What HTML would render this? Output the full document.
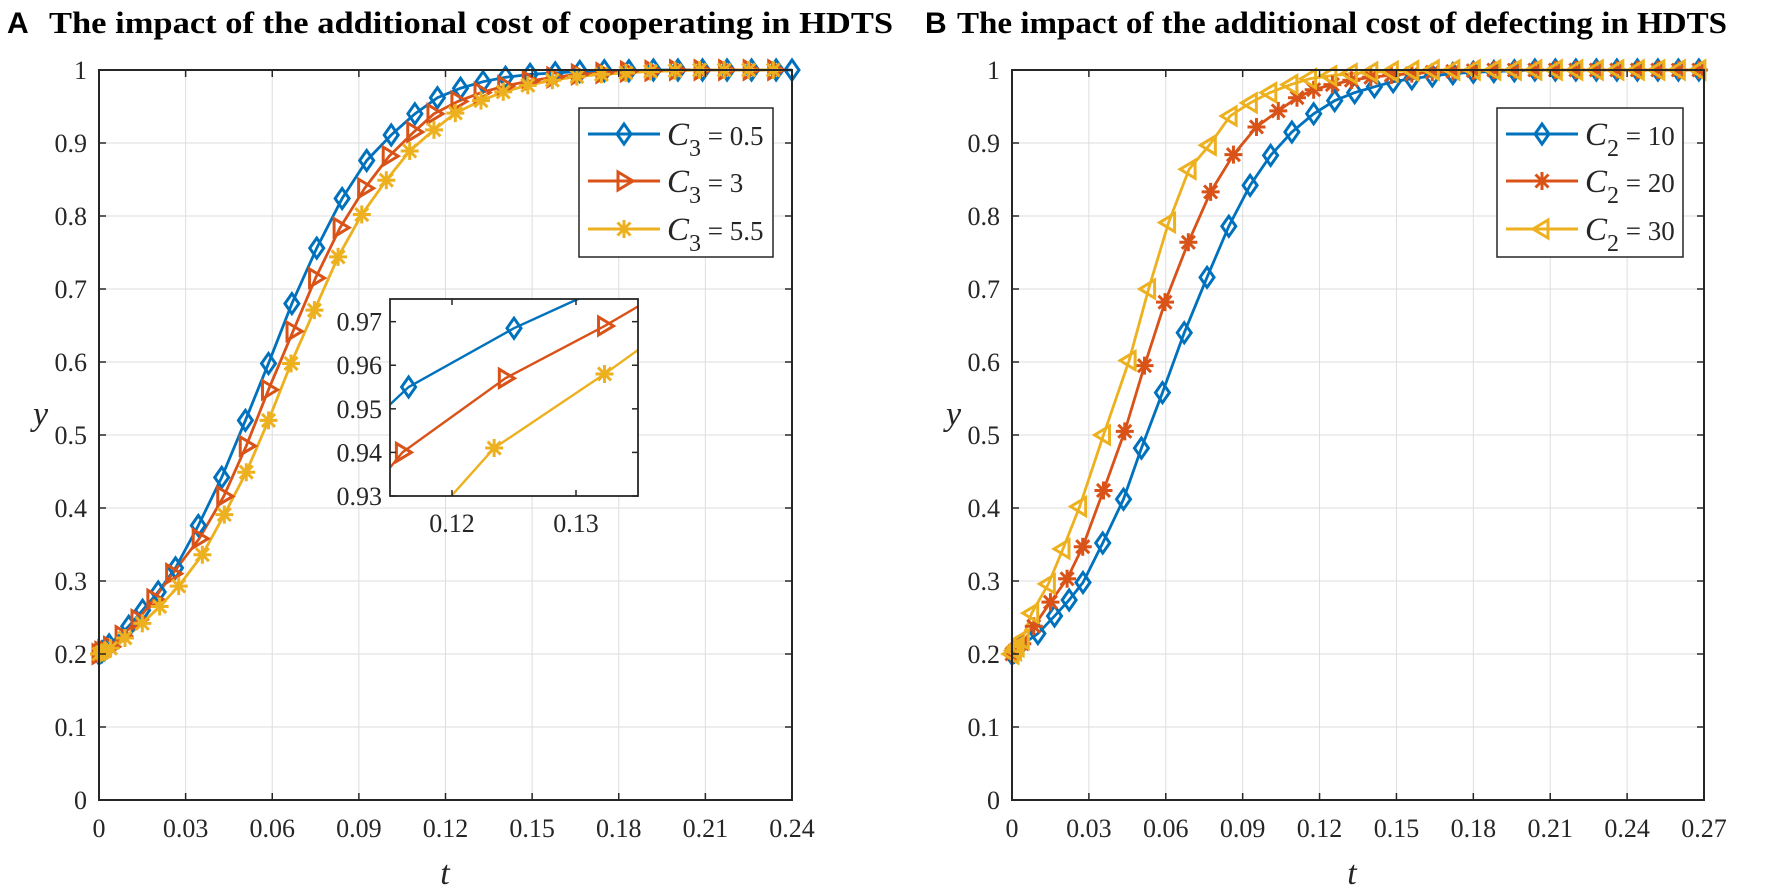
<!DOCTYPE html>
<html><head><meta charset="utf-8"><style>
html,body{margin:0;padding:0;background:#fff;}
svg{display:block;}
.tk{font-family:"Liberation Serif",serif;font-size:26px;fill:#262626;}
</style></head><body>
<svg id="fig" width="1772" height="893" viewBox="0 0 1772 893" xmlns="http://www.w3.org/2000/svg">
<text x="7" y="33" font-family="Liberation Sans,sans-serif" font-weight="bold" font-size="30">A</text>
<text x="49" y="33" font-family="Liberation Serif,serif" font-weight="bold" font-size="31" textLength="844" lengthAdjust="spacingAndGlyphs">The impact of the additional cost of cooperating in HDTS</text>
<text x="925" y="33" font-family="Liberation Sans,sans-serif" font-weight="bold" font-size="30">B</text>
<text x="957" y="33" font-family="Liberation Serif,serif" font-weight="bold" font-size="31" textLength="770" lengthAdjust="spacingAndGlyphs">The impact of the additional cost of defecting in HDTS</text>
</svg>
<script>
// ---- Panel A data ----
const aBlueT=[0,0.001,0.002,0.0035,0.0103,0.0151,0.0205,0.0265,0.0344,0.0425,0.0507,0.0587,0.0668,0.0754,0.0842,0.0927,0.1012,0.1094,0.1172,0.1252,0.133,0.1408,0.1493,0.158,0.1665,0.175,0.1835,0.192,0.2005,0.209,0.2175,0.226,0.2345,0.24];
const aBlueY=[0.2,0.203,0.206,0.2125,0.238,0.26,0.285,0.318,0.376,0.442,0.52,0.598,0.68,0.756,0.824,0.876,0.911,0.94,0.962,0.975,0.984,0.99,0.994,0.996,0.998,0.999,0.999,1,1,1,1,1,1,1];
const aRedT=[0,0.001,0.002,0.004,0.008,0.0135,0.019,0.0255,0.0347,0.0432,0.051,0.0587,0.0672,0.075,0.0835,0.092,0.1005,0.109,0.116,0.1243,0.1323,0.1405,0.149,0.1575,0.166,0.1745,0.183,0.1915,0.2,0.2085,0.217,0.2255,0.234];
const aRedY=[0.2,0.203,0.205,0.21,0.225,0.247,0.275,0.31,0.358,0.416,0.485,0.562,0.642,0.715,0.784,0.838,0.882,0.915,0.94,0.957,0.969,0.978,0.985,0.99,0.994,0.996,0.998,0.999,1,1,1,1,1];
const aYelT=[0,0.001,0.002,0.004,0.009,0.015,0.021,0.0276,0.0358,0.0434,0.051,0.0587,0.0665,0.0746,0.0828,0.091,0.0995,0.1076,0.116,0.1234,0.1323,0.14,0.1485,0.157,0.1655,0.174,0.1825,0.191,0.1995,0.208,0.2165,0.225,0.2335];
const aYelY=[0.2,0.202,0.204,0.208,0.222,0.242,0.265,0.293,0.336,0.391,0.449,0.52,0.598,0.671,0.744,0.802,0.849,0.889,0.918,0.941,0.958,0.97,0.979,0.986,0.991,0.994,0.996,0.998,0.999,1,1,1,1];
const aXTicks=[0,0.03,0.06,0.09,0.12,0.15,0.18,0.21,0.24];
const aXTickLabels=["0","0.03","0.06","0.09","0.12","0.15","0.18","0.21","0.24"];
const yTicks=[0,0.1,0.2,0.3,0.4,0.5,0.6,0.7,0.8,0.9,1];
const yTickLabels=["0","0.1","0.2","0.3","0.4","0.5","0.6","0.7","0.8","0.9","1"];
// inset
const inBlueT=[0.115,0.1165,0.125,0.13,0.135];
const inBlueY=[0.951,0.955,0.9685,0.975,0.981];
const inBlueMarkT=[0.1165,0.125];
const inBlueMarkY=[0.955,0.9685];
const inRedT=[0.115,0.116,0.1243,0.1323,0.135];
const inRedY=[0.9365,0.94,0.957,0.969,0.9735];
const inRedMarkT=[0.116,0.1243,0.1323];
const inRedMarkY=[0.94,0.957,0.969];
const inYelT=[0.119,0.1234,0.1323,0.135];
const inYelY=[0.927,0.941,0.958,0.9635];
const inYelMarkT=[0.1234,0.1323];
const inYelMarkY=[0.941,0.958];
const inXTicks=[0.12,0.13];
const inXTickLabels=["0.12","0.13"];
const inYTicks=[0.93,0.94,0.95,0.96,0.97];
const inYTickLabels=["0.93","0.94","0.95","0.96","0.97"];
// ---- Panel B data ----
const bBlueT=[0,0.001,0.002,0.0028,0.0101,0.0166,0.0223,0.0277,0.0354,0.0435,0.0505,0.0587,0.0672,0.0761,0.0846,0.0929,0.1009,0.1092,0.1177,0.1259,0.1337,0.1414,0.1487,0.156,0.164,0.172,0.18,0.188,0.196,0.204,0.212,0.22,0.228,0.236,0.244,0.252,0.26,0.268];
const bBlueY=[0.2,0.203,0.206,0.21,0.228,0.252,0.274,0.298,0.352,0.412,0.482,0.558,0.64,0.716,0.786,0.842,0.883,0.915,0.94,0.958,0.969,0.977,0.984,0.988,0.992,0.995,0.997,0.998,0.999,1,1,1,1,1,1,1,1,1];
const bRedT=[0,0.001,0.002,0.004,0.0085,0.015,0.0215,0.0276,0.0357,0.044,0.0517,0.0597,0.0688,0.0775,0.0864,0.0954,0.1039,0.1112,0.1177,0.125,0.1324,0.14,0.148,0.156,0.164,0.172,0.18,0.188,0.196,0.204,0.212,0.22,0.228,0.236,0.244,0.252,0.26,0.268];
const bRedY=[0.2,0.204,0.207,0.214,0.238,0.271,0.303,0.347,0.424,0.505,0.595,0.682,0.764,0.833,0.884,0.922,0.944,0.962,0.973,0.98,0.986,0.99,0.993,0.995,0.997,0.998,0.999,1,1,1,1,1,1,1,1,1,1,1];
const bYelT=[0,0.001,0.002,0.004,0.0077,0.0142,0.0199,0.0264,0.0357,0.0457,0.0533,0.0611,0.0691,0.077,0.0851,0.093,0.1006,0.1088,0.1161,0.124,0.132,0.14,0.148,0.156,0.164,0.172,0.18,0.188,0.196,0.204,0.212,0.22,0.228,0.236,0.244,0.252,0.26,0.268];
const bYelY=[0.2,0.205,0.21,0.22,0.256,0.296,0.344,0.402,0.5,0.602,0.7,0.791,0.864,0.897,0.937,0.955,0.969,0.98,0.988,0.992,0.995,0.997,0.998,0.999,1,1,1,1,1,1,1,1,1,1,1,1,1,1];
const bXTicks=[0,0.03,0.06,0.09,0.12,0.15,0.18,0.21,0.24,0.27];
const bXTickLabels=["0","0.03","0.06","0.09","0.12","0.15","0.18","0.21","0.24","0.27"];

const NS="http://www.w3.org/2000/svg";
const svg=document.getElementById('fig');
const BLUE="#0072BD",RED="#D95319",YEL="#EDB120",AX="#262626";
function mk(tag,attrs,parent){const e=document.createElementNS(NS,tag);for(const k in attrs)e.setAttribute(k,attrs[k]);(parent||svg).appendChild(e);return e;}
function scale(d0,d1,r0,r1){return v=>r0+(v-d0)/(d1-d0)*(r1-r0);}

function marker(g,type,x,y,color){
  let e;
  if(type==='diamond'){e=mk('polygon',{points:`${x},${y-10} ${x+7},${y} ${x},${y+10} ${x-7},${y}`,fill:'none',stroke:color,'stroke-width':3},g);}
  else if(type==='triR'){e=mk('polygon',{points:`${x+9},${y} ${x-6},${y-9} ${x-6},${y+9}`,fill:'none',stroke:color,'stroke-width':3},g);}
  else if(type==='triL'){e=mk('polygon',{points:`${x-9},${y} ${x+6},${y-9} ${x+6},${y+9}`,fill:'none',stroke:color,'stroke-width':3},g);}
  else {const r=9,q=6.5;e=mk('path',{d:`M${x-r},${y}H${x+r}M${x},${y-r}V${y+r}M${x-q},${y-q}L${x+q},${y+q}M${x-q},${y+q}L${x+q},${y-q}`,stroke:color,'stroke-width':3,fill:'none'},g);}
  
  
}
function series(g,ts,ys,sx,sy,color,type,name,lw){
  const pl=mk('polyline',{points:ts.map((t,i)=>sx(t)+','+sy(ys[i])).join(' '),fill:'none',stroke:color,'stroke-width':lw||2.8},g);
  
  
}
function markers(g,ts,ys,sx,sy,color,type){ts.forEach((t,i)=>marker(g,type,sx(t),sy(ys[i]),color));}

function panel(id,x0,x1,y0,y1,xmax,xTicks,xLabels,ser,leg,tx){
  const g=mk('g',{});
  
  
  const sx=scale(0,xmax,x0,x1),sy=scale(0,1,y0,y1);
  xTicks.forEach(v=>{const l=mk('line',{x1:sx(v),x2:sx(v),y1:y1,y2:y0,stroke:'#dedede','stroke-width':1},g);});
  yTicks.forEach(v=>{const l=mk('line',{x1:x0,x2:x1,y1:sy(v),y2:sy(v),stroke:'#dedede','stroke-width':1},g);});
  ser.forEach(s=>series(g,s.t,s.y,sx,sy,s.c,s.m,s.n));
  ser.forEach(s=>markers(g,s.t,s.y,sx,sy,s.c,s.m));
  xTicks.forEach((v,i)=>{
    mk('line',{x1:sx(v),x2:sx(v),y1:y0,y2:y0-7,stroke:AX,'stroke-width':1.5},g);
    mk('line',{x1:sx(v),x2:sx(v),y1:y1,y2:y1+7,stroke:AX,'stroke-width':1.5},g);
    const t=mk('text',{x:sx(v),y:y0+37,'text-anchor':'middle',class:'tk'},g);t.textContent=xLabels[i];
    
    
  });
  yTicks.forEach((v,i)=>{
    mk('line',{x1:x0,x2:x0+7,y1:sy(v),y2:sy(v),stroke:AX,'stroke-width':1.5},g);
    mk('line',{x1:x1,x2:x1-7,y1:sy(v),y2:sy(v),stroke:AX,'stroke-width':1.5},g);
    const t=mk('text',{x:x0-12,y:sy(v)+9,'text-anchor':'end',class:'tk'},g);t.textContent=yTickLabels[i];
    
    
  });
  const box=mk('rect',{x:x0,y:y1,width:x1-x0,height:y0-y1,fill:'none',stroke:AX,'stroke-width':2},g);
  
  
  const yl=mk('text',{x:x0-66,y:425,'font-family':'Liberation Serif,serif','font-style':'italic','font-size':34,fill:AX},g);yl.textContent='y';
  
  
  const xl=mk('text',{x:tx,y:884,'font-family':'Liberation Serif,serif','font-style':'italic','font-size':34,fill:AX,'text-anchor':'middle'},g);xl.textContent='t';
  
  
  const lg=mk('g',{},g);
  
  
  mk('rect',{x:leg.x,y:108,width:leg.w,height:149,fill:'#fff',stroke:AX,'stroke-width':1.5},lg);
  const rows=[134,181,229];
  ser.forEach((s,i)=>{
    const e=mk('g',{},lg);
    
    
    mk('line',{x1:leg.x+9,x2:leg.x+81,y1:rows[i],y2:rows[i],stroke:s.c,'stroke-width':3},e);
    marker(e,s.m,leg.x+45,rows[i],s.c);
    const t=mk('text',{x:leg.x+88,y:rows[i]+11,'font-family':'Liberation Serif,serif','font-size':27,fill:AX},e);
    const c=mk('tspan',{'font-style':'italic','font-size':33},t);c.textContent='C';
    const sb=mk('tspan',{dy:11,'font-size':24},t);sb.textContent=leg.sub;
    const r=mk('tspan',{dy:-11},t);r.textContent=' = '+s.v;
  });
  return {g,sx,sy};
}

panel('a',99,792,800,70,0.24,aXTicks,aXTickLabels,[
 {t:aBlueT,y:aBlueY,c:BLUE,m:'diamond',n:'c3-0.5',v:'0.5'},
 {t:aRedT,y:aRedY,c:RED,m:'triR',n:'c3-3',v:'3'},
 {t:aYelT,y:aYelY,c:YEL,m:'star',n:'c3-5.5',v:'5.5'}],{x:579,w:194,sub:'3'},445);

panel('b',1012,1704,800,70,0.27,bXTicks,bXTickLabels,[
 {t:bBlueT,y:bBlueY,c:BLUE,m:'diamond',n:'c2-10',v:'10'},
 {t:bRedT,y:bRedY,c:RED,m:'star',n:'c2-20',v:'20'},
 {t:bYelT,y:bYelY,c:YEL,m:'triL',n:'c2-30',v:'30'}],{x:1497,w:186,sub:'2'},1352);

(function(){
  const X0=390,X1=638,Y0=496,Y1=299;
  const sx=scale(0.115,0.135,X0,X1),sy=scale(0.93,0.9752,Y0,Y1);
  const g=mk('g',{});
  
  
  mk('defs',{},g).innerHTML=`<clipPath id="inclip"><rect x="${X0}" y="${Y1}" width="${X1-X0}" height="${Y0-Y1}"/></clipPath>`;
  mk('rect',{x:X0,y:Y1,width:X1-X0,height:Y0-Y1,fill:'#fff'},g);
  const c=mk('g',{'clip-path':'url(#inclip)'},g);
  series(c,inBlueT,inBlueY,sx,sy,BLUE,'diamond','inset-blue',2.4);
  series(c,inRedT,inRedY,sx,sy,RED,'triR','inset-red',2.4);
  series(c,inYelT,inYelY,sx,sy,YEL,'star','inset-yellow',2.4);
  markers(c,inBlueMarkT,inBlueMarkY,sx,sy,BLUE,'diamond');
  markers(c,inRedMarkT,inRedMarkY,sx,sy,RED,'triR');
  markers(c,inYelMarkT,inYelMarkY,sx,sy,YEL,'star');
  inXTicks.forEach((v,i)=>{
    mk('line',{x1:sx(v),x2:sx(v),y1:Y0,y2:Y0-6,stroke:AX,'stroke-width':1.5},g);
    mk('line',{x1:sx(v),x2:sx(v),y1:Y1,y2:Y1+6,stroke:AX,'stroke-width':1.5},g);
    const t=mk('text',{x:sx(v),y:Y0+36,'text-anchor':'middle',class:'tk'},g);t.textContent=inXTickLabels[i];
    
    
  });
  inYTicks.forEach((v,i)=>{
    mk('line',{x1:X0,x2:X0+6,y1:sy(v),y2:sy(v),stroke:AX,'stroke-width':1.5},g);
    mk('line',{x1:X1,x2:X1-6,y1:sy(v),y2:sy(v),stroke:AX,'stroke-width':1.5},g);
    const t=mk('text',{x:X0-8,y:sy(v)+9,'text-anchor':'end',class:'tk'},g);t.textContent=inYTickLabels[i];
    
    
  });
  mk('rect',{x:X0,y:Y1,width:X1-X0,height:Y0-Y1,fill:'none',stroke:AX,'stroke-width':1.8},g);
})();
</script>
</body></html>
